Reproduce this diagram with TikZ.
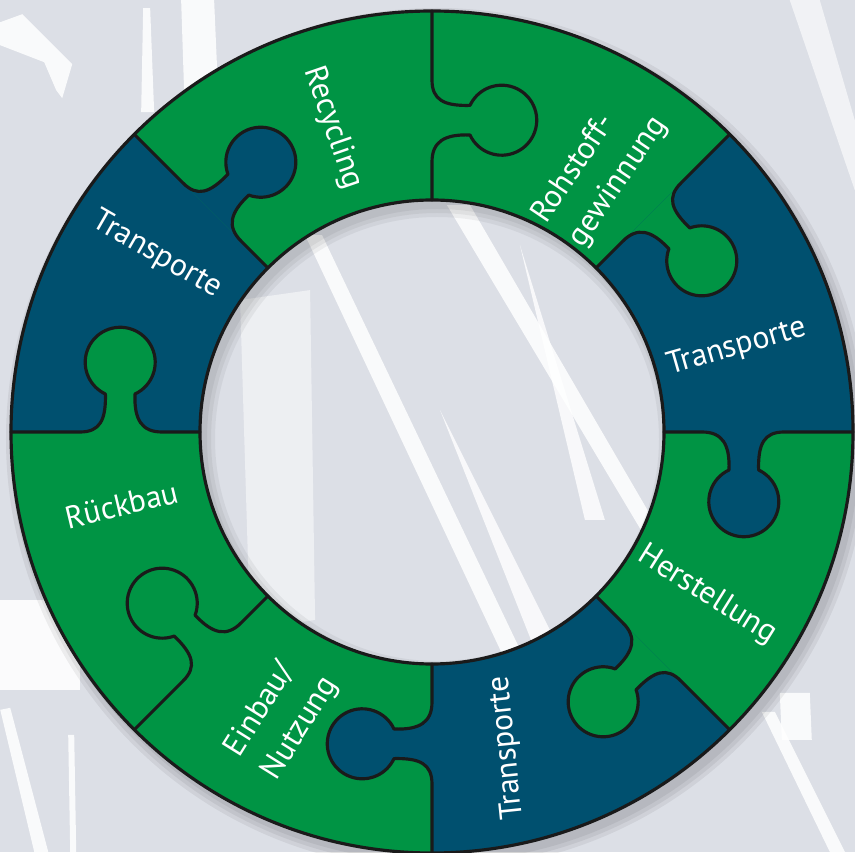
\documentclass[tikz,border=0pt]{standalone}
\usepackage{fontspec}
\setmainfont{PT Sans}
\definecolor{puzgreen}{HTML}{009444}
\definecolor{puzblue}{HTML}{00506F}
\definecolor{bggrey}{HTML}{DCDFE6}
\definecolor{rimline}{HTML}{1A1A1A}
\begin{document}
\begin{tikzpicture}[font=\fontsize{9}{12.5}\selectfont, line join=round, line cap=round,
  rim/.style={draw=rimline, line width=0.9pt},
  piecetext/.style={text=white, inner sep=0pt},
  knob/.style={insert path={.. controls (2.90,0) and (2.98,-0.12) .. (2.97,-0.38)
    arc[start angle=115, end angle=425, radius=0.35]
    .. controls (3.26,-0.12) and (3.32,0) .. (3.52,0)}}]
\useasboundingbox (-4.32,-4.20) rectangle (4.23,4.32);
\path (0,0) coordinate (O);
\fill[bggrey] (-4.32,-4.20) rectangle (4.23,4.32);

\begin{scope}[x=0.01cm, y=-0.01cm, shift={(-432,-432)}, white]
\fill[opacity=0.85] (0,22) -- (22,14) -- (72,64) -- (62,98) -- (56,90) -- (44,62) -- (0,45) -- cycle;
\fill[opacity=0.85] (143,8) -- (150,8) -- (154,112) -- (141,112) -- cycle;
\fill[opacity=0.85] (181,0) -- (214,0) -- (218,92) -- (184,92) -- cycle;
\fill[opacity=0.6] (790,0) -- (820,0) -- (855,120) -- (855,190) -- cycle;
\fill[opacity=0.85] (305,235) -- (322,235) -- (525,660) -- (505,660) -- cycle;
\fill[opacity=0.85] (447,205) -- (470,205) -- (665,540) -- (650,545) -- cycle;
\fill[opacity=0.5] (240,300) -- (310,290) -- (315,620) -- (250,630) -- cycle;
\fill[opacity=0.8] (440,410) -- (560,650) -- (535,650) -- cycle;
\fill[opacity=0.8] (520,245) -- (605,520) -- (585,520) -- cycle;
\fill[opacity=0.9] (0,600) -- (80,600) -- (80,690) -- (0,690) -- cycle;
\fill[opacity=0.85] (0,710) -- (10,708) -- (48,852) -- (34,852) -- cycle;
\fill[opacity=0.85] (68,735) -- (74,735) -- (76,852) -- (70,852) -- cycle;
\fill[opacity=0.85] (762,712) -- (775,712) -- (845,852) -- (830,852) -- cycle;
\fill[opacity=0.85] (780,693) -- (810,693) -- (812,740) -- (782,740) -- cycle;
\end{scope}

\foreach \s in {4.31,4.27,4.23}
  \fill[black, opacity=0.06, even odd rule] (0.05,-0.07) circle (\s) (O) circle (2.32);
\begin{scope}
\clip (O) circle (2.32);
\foreach \s in {2.30,2.26,2.22}
  \fill[black, opacity=0.05, even odd rule] (O) circle (2.5) (0.05,-0.07) circle (\s);
\end{scope}

\fill[puzgreen, even odd rule] (O) circle (4.21) (O) circle (2.32);
\foreach \a in {0,135,270}
  \fill[puzblue] (\a:2.32) -- (\a:4.21) arc[start angle=\a, end angle=\a+45, radius=4.21]
    -- ({\a+45}:2.32) arc[start angle=\a+45, end angle=\a, radius=2.32] -- cycle;

\foreach \b/\c in {0/puzblue,45/puzgreen,90/puzgreen,135/puzblue,180/puzgreen,225/puzgreen,270/puzblue,315/puzgreen}{
  \fill[\c, rotate=\b] (2.70,0) [knob] -- cycle;
  \draw[rim, rotate=\b] (2.32,0) -- (2.70,0) [knob] -- (4.21,0);
}
\draw[rim] (O) circle (4.21) (O) circle (2.32);

\node[piecetext, rotate=-71] (recycling) at (-0.99,3.04) {Recycling};
\node[piecetext, rotate=56, align=left] (rohstoff) at (1.68,2.62) {Rohstoff-\\gewinnung};
\node[piecetext, rotate=16] (transport1) at (3.05,0.85) {Transporte};
\node[piecetext, rotate=-32] (herstellung) at (2.75,-1.63) {Herstellung};
\node[piecetext, rotate=96] (transport2) at (0.75,-3.16) {Transporte};
\node[piecetext, rotate=58, align=left] (einbau) at (-1.50,-2.85) {Einbau/\\Nutzung};
\node[piecetext, rotate=13.5] (rueckbau) at (-3.10,-0.73) {Rückbau};
\node[piecetext, rotate=-30] (transport3) at (-2.75,1.77) {Transporte};
\end{tikzpicture}
\end{document}
